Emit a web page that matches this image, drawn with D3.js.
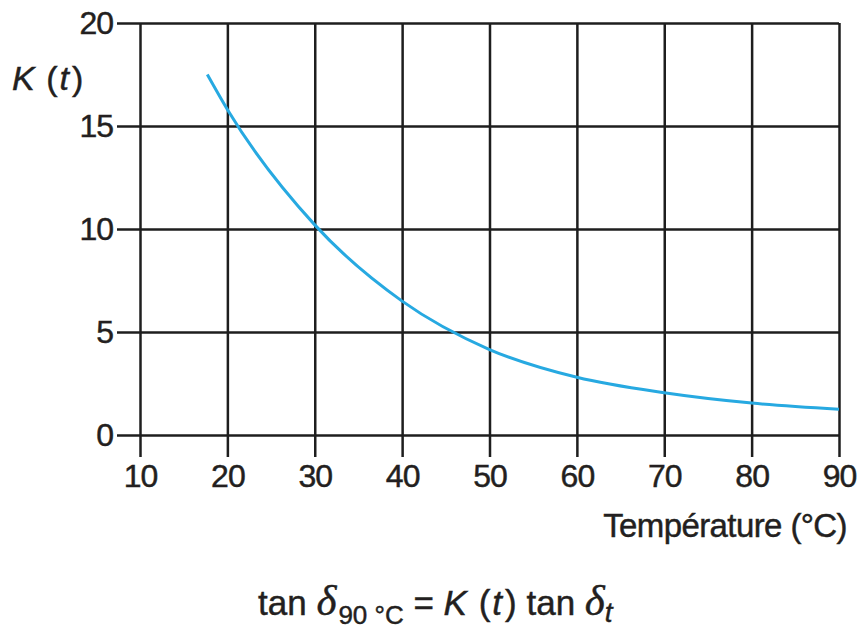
<!DOCTYPE html>
<html>
<head>
<meta charset="utf-8">
<script src="https://cdn.jsdelivr.net/npm/d3@7"></script>
<style>
  html, body { margin: 0; padding: 0; background: #fff; }
  svg text { font-family: "Liberation Sans", Arial, Helvetica, sans-serif; fill: #231f20; stroke: #231f20; stroke-width: 0.45px; }
</style>
</head>
<body>
<svg id="chart" width="861" height="630"></svg>
<script>
// Correction factor K(t) versus temperature
const temperature = [17.7, 20, 30, 40, 50, 60, 70, 80, 90];
const kValues     = [17.5, 15.8, 10.2, 6.5, 4.15, 2.8, 2.05, 1.55, 1.25];
const xTicks = [10, 20, 30, 40, 50, 60, 70, 80, 90];
const yTicks = [0, 5, 10, 15, 20];

const svg = d3.select("#chart");

const x = d3.scaleLinear().domain([10, 90]).range([140, 839]);
const y = d3.scaleLinear().domain([0, 20]).range([435, 23]);

const gridColor = "#1e1e1e";
const gridWidth = 2.5;
const tickFont = 32;

// Horizontal grid lines (with outer ticks on the left) and y labels
const yAxis = svg.append("g")
  .attr("transform", "translate(117,0)")
  .call(d3.axisLeft(y).tickValues(yTicks).tickSize(-(839 - 117)).tickPadding(4).tickFormat(d3.format("d")));
yAxis.select(".domain").remove();
yAxis.selectAll(".tick line").attr("stroke", gridColor).attr("stroke-width", gridWidth);
yAxis.selectAll(".tick text")
  .attr("font-size", tickFont).attr("letter-spacing", -1)
  .attr("fill", "#231f20");

// Vertical grid lines (with outer ticks at the bottom) and x labels
const xAxis = svg.append("g")
  .attr("transform", "translate(0,457)")
  .call(d3.axisBottom(x).tickValues(xTicks).tickSize(-(457 - 23)).tickPadding(7).tickFormat(d3.format("d")));
xAxis.select(".domain").remove();
xAxis.selectAll(".tick line").attr("stroke", gridColor).attr("stroke-width", gridWidth);
xAxis.selectAll(".tick text")
  .attr("font-size", tickFont).attr("letter-spacing", -1)
  .attr("fill", "#231f20");

// Curve
const line = d3.line()
  .x((d, i) => x(temperature[i]))
  .y(d => y(d))
  .curve(d3.curveMonotoneX);

svg.append("path")
  .datum(kValues)
  .attr("d", line)
  .attr("fill", "none")
  .attr("stroke", "#27a9e1")
  .attr("stroke-width", 3);

// Y axis title K (t)
const yTitle = svg.append("text")
  .attr("x", 12).attr("y", 90)
  .attr("font-size", 34);
yTitle.append("tspan").attr("font-style", "italic").text("K");
yTitle.append("tspan").attr("dx", 2).text(" (");
yTitle.append("tspan").attr("font-style", "italic").attr("dx", 2).text("t");
yTitle.append("tspan").attr("dx", 3).text(")");

// X axis title
svg.append("text")
  .attr("x", 847).attr("y", 537)
  .attr("text-anchor", "end")
  .attr("font-size", 33)
  .attr("letter-spacing", -0.6)
  .text("Température (°C)");

// Formula
const f = svg.append("text")
  .attr("x", 258).attr("y", 615)
  .attr("font-size", 35);
f.append("tspan").text("tan ");
f.append("tspan").attr("font-family", "'Liberation Serif', serif").attr("font-style", "italic").attr("font-size", 43).text("δ");
f.append("tspan").attr("font-size", 26).attr("dy", 9).attr("dx", 2).text("90 °C");
f.append("tspan").attr("dy", -9).text(" = ");
f.append("tspan").attr("font-style", "italic").text("K");
f.append("tspan").attr("dx", 2).text(" (");
f.append("tspan").attr("font-style", "italic").attr("dx", 2).text("t");
f.append("tspan").attr("dx", 3).text(") tan ");
f.append("tspan").attr("font-family", "'Liberation Serif', serif").attr("font-style", "italic").attr("font-size", 43).text("δ");
f.append("tspan").attr("font-style", "italic").attr("font-size", 28).attr("dy", 7).text("t");
</script>
</body>
</html>
